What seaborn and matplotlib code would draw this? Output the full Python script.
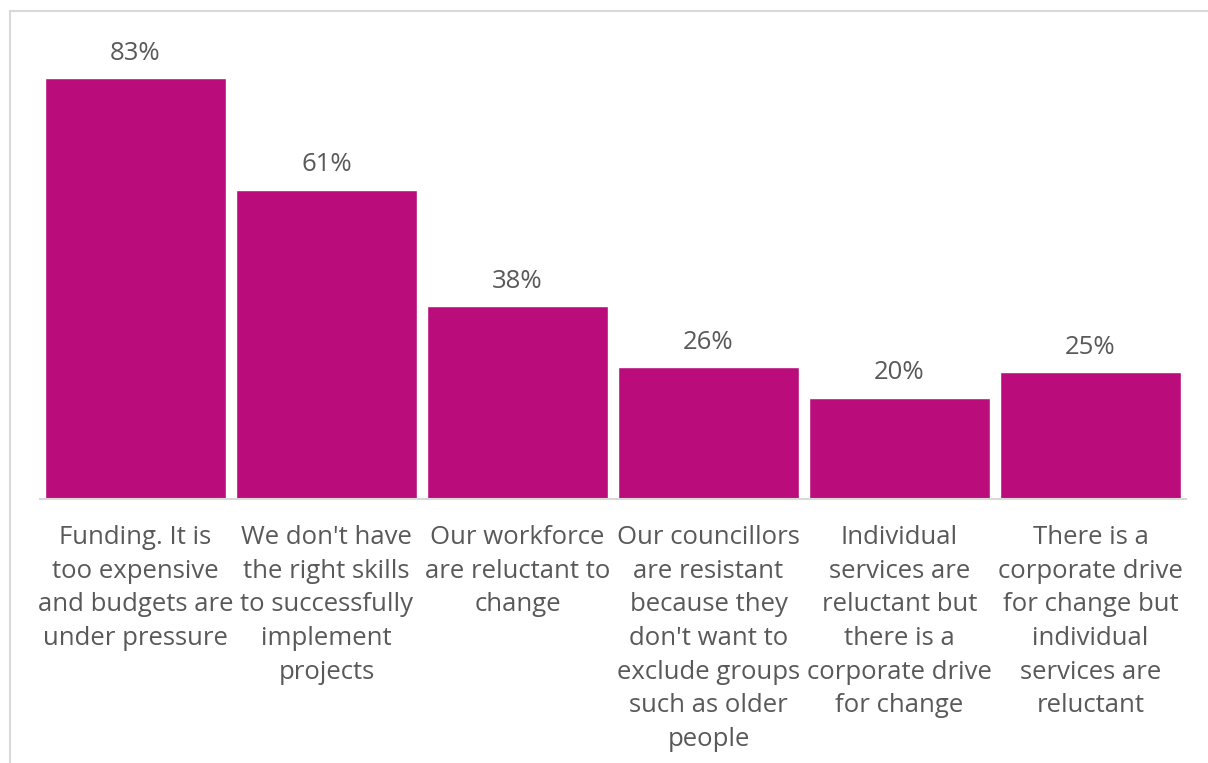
import matplotlib
matplotlib.use("Agg")
import matplotlib.pyplot as plt
import seaborn as sns
import pandas as pd
from matplotlib.lines import Line2D

categories = [
    "Funding. It is\ntoo expensive\nand budgets are\nunder pressure",
    "We don't have\nthe right skills\nto successfully\nimplement\nprojects",
    "Our workforce\nare reluctant to\nchange",
    "Our councillors\nare resistant\nbecause they\ndon't want to\nexclude groups\nsuch as older\npeople",
    "Individual\nservices are\nreluctant but\nthere is a\ncorporate drive\nfor change",
    "There is a\ncorporate drive\nfor change but\nindividual\nservices are\nreluctant",
]
values = [83, 61, 38, 26, 20, 25]

BAR_COLOR = "#BA0D7B"
TEXT_COLOR = "#595959"

sns.set_theme(style="white")
plt.rcParams["font.family"] = ["Open Sans", "DejaVu Sans"]

df = pd.DataFrame({"category": categories, "value": values})

fig = plt.figure(figsize=(12.08, 7.63), dpi=100)
ax = fig.add_axes([40 / 1208, 1 - 499 / 763, 1146 / 1208, 456 / 763])

sns.barplot(data=df, x="category", y="value", color=BAR_COLOR,
            width=0.95, saturation=1, ax=ax)

ax.set_ylim(0, 90)
ax.set_xlim(-0.5, len(categories) - 0.5)
ax.set_xlabel("")
ax.set_ylabel("")
ax.set_yticks([])

for side in ("top", "right", "left"):
    ax.spines[side].set_visible(False)
ax.spines["bottom"].set_color("#D9D9D9")
ax.spines["bottom"].set_linewidth(1.5)

ax.tick_params(axis="x", length=0, pad=19, labelsize=18.5, labelcolor=TEXT_COLOR)
for lbl in ax.get_xticklabels():
    lbl.set_linespacing(1.45)
    lbl.set_multialignment("center")

ax.bar_label(ax.containers[0], fmt="%d%%", padding=9,
             fontsize=18.5, color=TEXT_COLOR)

# outer chart frame (top and left edges)
fig.add_artist(Line2D([10 / 1208, 10 / 1208], [0, 1 - 11 / 763],
                      transform=fig.transFigure, color="#D9D9D9", lw=1.5))
fig.add_artist(Line2D([10 / 1208, 1], [1 - 11 / 763, 1 - 11 / 763],
                      transform=fig.transFigure, color="#D9D9D9", lw=1.5))

fig.savefig("out.png", dpi=100, facecolor="white")
